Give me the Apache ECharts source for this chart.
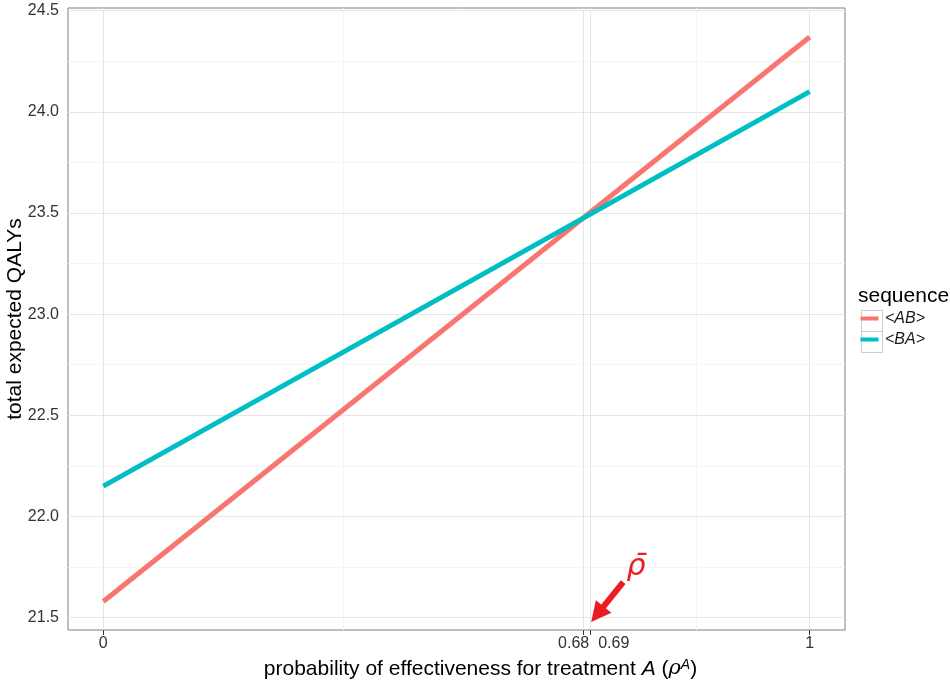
<!DOCTYPE html>
<html>
<head>
<meta charset="utf-8">
<script src="https://cdn.jsdelivr.net/npm/echarts@6/dist/echarts.min.js"></script>
<style>
  html, body { margin: 0; padding: 0; background: #fff; }
  #chart { width: 950px; height: 683px; }
</style>
</head>
<body>
<div id="chart"></div>
<script>
// values
const xVals = [0, 1]
const abVals = [21.58, 24.37]
const baVals = [22.15, 24.1]
const xBreaks = [0, 0.68, 0.69, 1]
const xMinor = [0.34, 0.685, 0.845]
const yBreaks = [21.5, 22, 22.5, 23, 23.5, 24, 24.5]
const yMinor = [21.75, 22.25, 22.75, 23.25, 23.75, 24.25]
const arrowFrom = [0.736, 21.676]
const arrowTo = [0.6995, 21.517]
const rhoAt = [0.754, 21.75]
const seriesNames = ['<AB>', '<BA>']

const FONT = 'Liberation Sans, Arial, sans-serif'
const chartDom = document.getElementById('chart')
const myChart = echarts.init(chartDom)

const vLine = (x) => ({ xAxis: x })
const hLine = (y) => ({ yAxis: y })

const keyIcon = 'path://M0,0h0.05v0.05h-0.05z M1.5,8.5h18v4h-18z M20.95,20.95h0.05v0.05h-0.05z'

const option = {
  animation: false,
  grid: {
    left: 68, right: 105, top: 8, bottom: 53,
    containLabel: false,
    outerBoundsMode: 'none',
    show: true, borderColor: '#7f7f7f', borderWidth: 1, backgroundColor: '#fff'
  },
  legend: {
    orient: 'vertical',
    left: 859, top: 308,
    padding: 0,
    itemWidth: 21, itemHeight: 21, itemGap: 0, itemTextGap: 2,
    data: seriesNames.map(n => ({ name: n, icon: keyIcon })),
    textStyle: { fontFamily: FONT, fontSize: 16, fontStyle: 'italic', color: '#1a1a1a' }
  },
  graphic: [
    { type: 'text', left: 858, top: 286, style: { text: 'sequence', font: '21px ' + FONT, fill: '#000' } },
    { type: 'rect', left: 859, top: 308, z: 0, shape: { width: 21, height: 21 }, style: { fill: 'none', stroke: '#cccccc', lineWidth: 1 } },
    { type: 'rect', left: 859, top: 329, z: 0, shape: { width: 21, height: 21 }, style: { fill: 'none', stroke: '#cccccc', lineWidth: 1 } }
  ],
  xAxis: {
    type: 'value',
    min: -0.05, max: 1.05,
    axisLine: { show: false },
    splitLine: { show: false },
    axisTick: { show: true, customValues: xBreaks, length: 5, lineStyle: { color: '#333' } },
    axisLabel: {
      customValues: xBreaks,
      margin: 6,
      fontFamily: FONT, fontSize: 16, color: '#333',
      formatter: (v) => {
        if (v === 0.68) return '{l|0.68}'
        if (v === 0.69) return '{r|0.69}'
        return String(v)
      },
      rich: {
        l: { fontFamily: FONT, fontSize: 16, color: '#333', padding: [0, 20, 0, 0] },
        r: { fontFamily: FONT, fontSize: 16, color: '#333', padding: [0, 0, 0, 46] }
      }
    },
    name: 'probability of effectiveness for treatment {i|A} ({g|ρ}{s|A})',
    nameLocation: 'middle',
    nameGap: 28,
    nameTextStyle: {
      fontFamily: FONT, fontSize: 21, color: '#000',
      padding: [0, 0, 0, 48],
      rich: {
        i: { fontFamily: FONT, fontSize: 21, fontStyle: 'italic', color: '#000' },
        g: { fontFamily: 'DejaVu Serif, serif', fontSize: 21, fontStyle: 'italic', color: '#000' },
        s: { fontFamily: FONT, fontSize: 14, fontStyle: 'italic', color: '#000', verticalAlign: 'top', padding: [0, 0, 8, 0] }
      }
    }
  },
  yAxis: {
    type: 'value',
    min: 21.439, max: 24.513,
    axisLine: { show: false },
    splitLine: { show: false },
    axisTick: { show: true, customValues: yBreaks, length: 5, lineStyle: { color: '#333' } },
    axisLabel: {
      customValues: yBreaks,
      margin: 9,
      fontFamily: FONT, fontSize: 16, color: '#333',
      formatter: (v) => v.toFixed(1)
    },
    name: 'total expected QALYs',
    nameLocation: 'middle',
    nameGap: 42,
    nameMoveOverlap: false,
    nameTextStyle: { fontFamily: FONT, fontSize: 21, color: '#000' }
  },
  series: [
    {
      // panel grid lines
      type: 'line',
      data: [],
      silent: true,
      z: 1,
      markLine: {
        silent: true,
        z: 1,
        symbol: ['none', 'none'],
        label: { show: false },
        animation: false,
        data: [
          ...xMinor.map(x => ({ ...vLine(x), lineStyle: { color: '#f5f5f5', width: 1, type: 'solid' } })),
          ...yMinor.map(y => ({ ...hLine(y), lineStyle: { color: '#f5f5f5', width: 1, type: 'solid' } })),
          ...xBreaks.map(x => ({ ...vLine(x), lineStyle: { color: '#e5e5e5', width: 1, type: 'solid' } })),
          ...yBreaks.map(y => ({ ...hLine(y), lineStyle: { color: '#e5e5e5', width: 1, type: 'solid' } }))
        ]
      }
    },
    {
      name: seriesNames[0],
      type: 'line',
      z: 3,
      showSymbol: false,
      color: '#F8766D',
      lineStyle: { color: '#F8766D', width: 5, cap: 'butt' },
      data: xVals.map((x, i) => [x, abVals[i]])
    },
    {
      name: seriesNames[1],
      type: 'line',
      z: 4,
      showSymbol: false,
      color: '#00BFC4',
      lineStyle: { color: '#00BFC4', width: 5, cap: 'butt' },
      data: xVals.map((x, i) => [x, baVals[i]])
    },
    {
      // rho-bar annotation
      type: 'line',
      data: [],
      silent: true,
      z: 5,
      markLine: {
        silent: true,
        z: 6,
        symbol: ['none', 'triangle'],
        symbolSize: [20, 20],
        label: { show: false },
        lineStyle: { color: '#ED1C24', width: 6, type: 'solid' },
        data: [[{ coord: arrowFrom }, { coord: arrowTo }]]
      },
      markPoint: {
        silent: true,
        z: 6,
        symbol: 'circle',
        symbolSize: 0,
        label: {
          show: true,
          position: 'inside',
          formatter: 'ρ\u0304',
          fontFamily: 'DejaVu Sans, sans-serif',
          fontStyle: 'italic',
          fontSize: 30,
          color: '#ED1C24'
        },
        data: [{ coord: rhoAt }]
      }
    }
  ]
}

option && myChart.setOption(option)
</script>
</body>
</html>
